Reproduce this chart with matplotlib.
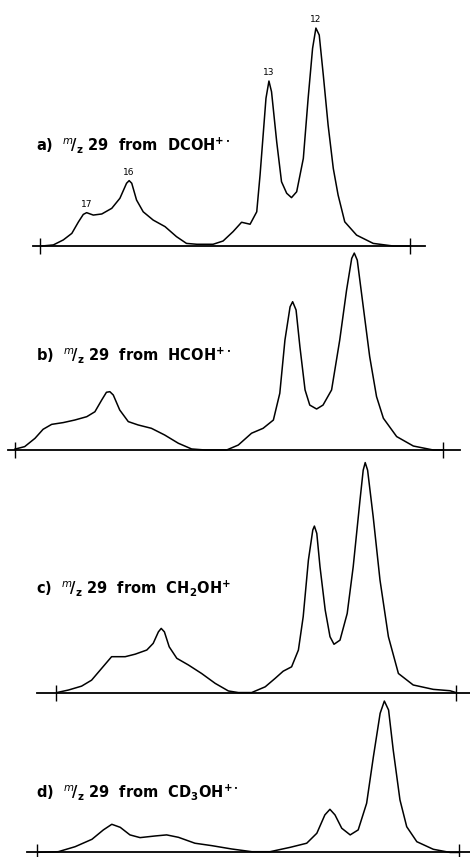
import numpy as np
import matplotlib
matplotlib.use("Agg")
import matplotlib.pyplot as plt

plt.rcParams['font.family'] = ['DejaVu Sans']
plt.rcParams['mathtext.default'] = 'regular'

# traced spectra: x = scan position (0 and 100 at the two ticks), y = relative intensity
x_a = [0.5, 3.6, 6.3, 8.6, 10.4, 11.7, 12.6, 14.4, 16.7, 19.4, 21.6, 23.4, 24.1, 24.8,
       26.1, 27.9, 30.6, 33.8, 36.9, 39.6, 42.4, 46.8, 49.5, 52.2, 54.5, 56.8, 58.6,
       59.5, 60.4, 61.1, 61.9, 62.6, 64.0, 65.3, 66.7, 68.0, 69.4, 71.2, 72.5, 73.7,
       74.6, 75.5, 76.6, 77.9, 79.3, 80.6, 82.4, 85.6, 90.1, 95.5, 100]
y_a = [0, 0.5, 2.8, 5.8, 11.1, 14.5, 15.3, 14.2, 14.7, 17.3, 21.9, 28.8, 30.0, 28.8,
       21.1, 15.7, 11.9, 8.9, 4.3, 1.2, 0.8, 0.8, 2.3, 6.6, 10.9, 10.0, 15.7,
       32.6, 52.4, 67.8, 75.7, 70.8, 47.8, 29.5, 24.2, 22.2, 24.9, 40.2, 67.8, 90.7,
       100, 96.8, 78.4, 55.5, 35.6, 23.4, 11.1, 5.0, 1.2, 0, 0]

x_b = [0, 2.3, 4.7, 6.6, 8.6, 11.3, 14.0, 16.8, 18.7, 20.3, 21.4, 22.2, 23.0, 24.5,
       26.5, 28.8, 31.9, 35.0, 38.2, 41.3, 44.4, 49.5, 52.2, 55.3, 58.0, 60.4, 61.9,
       63.1, 64.3, 64.9, 65.7, 66.6, 67.8, 68.9, 70.5, 72.0, 74.0, 75.9, 77.5, 78.7,
       79.3, 80.0, 81.4, 82.9, 84.5, 86.1, 89.2, 93.1, 97.7, 100]
y_b = [0.4, 1.7, 5.9, 10.5, 13.0, 13.9, 15.2, 16.9, 19.4, 25.4, 29.3, 29.6, 27.9, 20.3,
       14.4, 12.7, 11.0, 7.6, 3.4, 0.5, 0, 0, 2.5, 8.5, 11.0, 15.2, 28.8,
       55.8, 72.7, 75.3, 71.1, 52.4, 30.5, 22.8, 20.8, 22.8, 30.5, 55.8, 81.2, 97.3,
       100, 96.4, 72.7, 47.4, 27.1, 16.1, 6.8, 2.0, 0, 0]

x_c = [0.2, 3.1, 6.4, 8.9, 11.4, 13.9, 17.3, 19.8, 22.7, 24.3, 25.6, 26.3, 27.1, 28.3,
       30.2, 33.1, 36.4, 39.8, 43.1, 45.6, 48.9, 52.3, 54.8, 56.8, 58.9, 60.6, 61.8,
       63.1, 64.2, 64.6, 65.2, 66.0, 67.3, 68.5, 69.5, 71.0, 72.8, 74.3, 76.0, 76.8,
       77.3, 77.9, 79.3, 81.0, 83.1, 85.6, 89.3, 94.3, 98.5, 100]
y_c = [0, 1.1, 2.8, 5.4, 10.5, 15.6, 15.6, 16.7, 18.5, 21.4, 26.4, 27.9, 26.4, 19.9,
       14.9, 12.0, 8.3, 4.0, 0.7, 0, 0, 2.5, 6.2, 9.3, 11.2, 18.5, 33.0,
       57.6, 70.7, 72.4, 69.2, 54.7, 35.9, 24.3, 21.0, 22.8, 34.4, 54.7, 83.7, 96.7,
       100, 96.7, 76.4, 48.9, 24.3, 8.3, 3.3, 1.4, 0.8, 0]

x_d = [0.3, 5.0, 9.0, 13.0, 15.7, 17.7, 19.7, 22.0, 24.4, 28.0, 30.7, 33.5, 37.4, 41.4,
       46.1, 50.9, 55.2, 60.0, 63.9, 66.3, 68.2, 69.4, 70.6, 72.2, 74.2, 76.1, 78.1,
       79.7, 81.3, 82.3, 83.3, 84.4, 86.0, 87.6, 90.0, 93.9, 97.9, 100]
y_d = [0.1, 0.5, 3.8, 8.7, 14.9, 18.6, 16.6, 11.6, 9.8, 10.9, 11.6, 10.0, 6.1, 4.5,
       2.3, 0.5, 0.5, 3.4, 6.1, 12.7, 24.8, 28.5, 24.8, 16.0, 11.6, 14.9, 32.5,
       63.2, 91.9, 100, 94.1, 67.7, 34.7, 17.0, 7.1, 2.1, 0, 0]

titles = [r"a)  $^{\mathit{m}}\!/_{z}$ 29  from  DCOH$^{+\cdot}$",
          r"b)  $^{\mathit{m}}\!/_{z}$ 29  from  HCOH$^{+\cdot}$",
          r"c)  $^{\mathit{m}}\!/_{z}$ 29  from  CH$_2$OH$^{+}$",
          r"d)  $^{\mathit{m}}\!/_{z}$ 29  from  CD$_3$OH$^{+\cdot}$"]

peak_names_a = ['17', '16', '13', '12']
peak_x_a = [12.6, 24.1, 61.9, 74.6]

W, H = 470, 857
fig = plt.figure(figsize=(W / 100, H / 100), dpi=100)


def add_panel(left, right, top, bottom, xlim, ylim):
    ax = fig.add_axes([left / W, 1 - bottom / H, (right - left) / W, (bottom - top) / H])
    ax.set_xlim(*xlim)
    ax.set_ylim(*ylim)
    for s in ['top', 'right', 'left']:
        ax.spines[s].set_visible(False)
    ax.spines['bottom'].set_position(('data', 0))
    ax.spines['bottom'].set_linewidth(1.3)
    ax.set_yticks([])
    ax.set_xticks([0, 100])
    ax.set_xticklabels([])
    ax.tick_params(axis='x', direction='inout', length=12, width=1.0)
    ax.patch.set_alpha(0)
    return ax


panels = [
    (x_a, y_a, (33, 425, 15, 258), (-1.9, 104.1), (-5.5, 106.0), 150),
    (x_b, y_b, (8, 460, 245, 460), (-1.6, 104.0), (-5.1, 104.1), 360),
    (x_c, y_c, (37, 470, 455, 702), (-4.75, 103.5), (-4.1, 103.3), 593),
    (x_d, y_d, (27, 470, 695, 857), (-2.4, 102.6), (-3.0, 104.0), 797),
]

axes = []
for (xs, ys, box, xl, yl, ty), title in zip(panels, titles):
    ax = add_panel(*box, xl, yl)
    ax.plot(xs, ys, color='black', lw=1.1, solid_joinstyle='round')
    fig.text(36 / W, 1 - ty / H, title, fontsize=10.5, fontweight='bold',
             va='baseline', ha='left')
    axes.append(ax)

for name, px in zip(peak_names_a, peak_x_a):
    py = np.interp(px, x_a, y_a)
    axes[0].annotate(name, (px, py), xytext=(0, 6), textcoords='offset points',
                     ha='center', va='center', fontsize=6.5)

fig.savefig('out.png', dpi=100)
